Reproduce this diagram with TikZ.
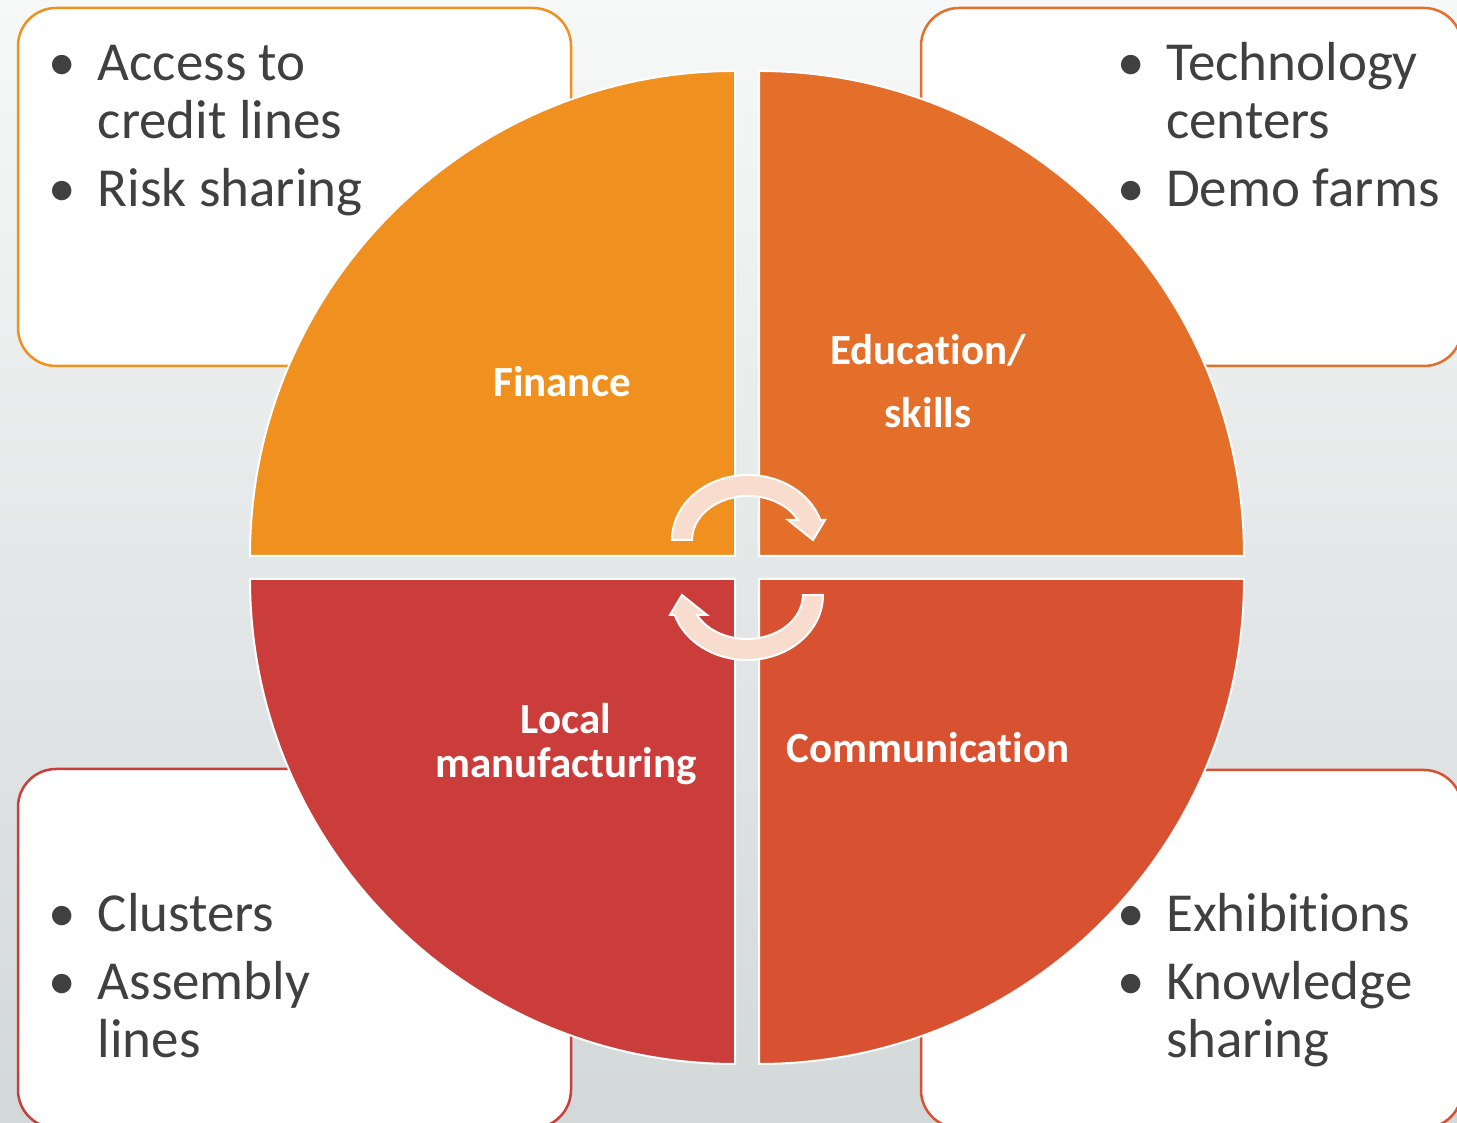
\documentclass[tikz,border=0pt]{standalone}
\usepackage{fontspec}
\setmainfont{Carlito}[Ligatures={NoCommon,NoContextual}]
\definecolor{bgtop}{HTML}{F7F8F8}
\definecolor{bgbottom}{HTML}{D3D8D8}
\definecolor{finorange}{HTML}{F0901F}
\definecolor{eduorange}{HTML}{E36F2A}
\definecolor{manred}{HTML}{CB3D3A}
\definecolor{comred}{HTML}{D85232}
\definecolor{arrowpeach}{HTML}{F8DCCD}
\definecolor{listgray}{HTML}{404040}
\tikzset{
  infobox/.style={rounded corners=38pt, line width=2.5pt, fill=white},
  quarter/.style={draw=white, line width=2pt},
  quadlabel/.style={text=white, font=\fontsize{43}{48}\selectfont\bfseries, anchor=base, inner sep=0pt},
  bulletlist/.style={text=listgray, font=\fontsize{55}{58}\selectfont, anchor=base west, inner sep=0pt},
  turnarrow/.style={fill=arrowpeach, draw=white, line width=2pt, line join=miter}
}
\newcommand{\bul}{\makebox[49pt][l]{\textbullet}}
\newcommand{\nobul}{\makebox[49pt][l]{}}
\begin{document}
\begin{tikzpicture}[x=1pt,y=1pt]
  \useasboundingbox (0,0) rectangle (1457,1123);
  \clip (0,0) rectangle (1457,1123);
  \shade[top color=bgtop, bottom color=bgbottom] (0,0) rectangle (1457,1123);

  % corner boxes
  \draw[infobox, draw=finorange] (18,757) rectangle (571,1115);
  \draw[infobox, draw=eduorange] (921,757) rectangle (1462,1115);
  \draw[infobox, draw=manred] (18,-5) rectangle (571,354);
  \draw[infobox, draw=comred] (921,-5) rectangle (1462,353);

  % the four quarters
  \foreach \cx/\cy/\a/\col in {735/567/90/finorange, 759/567/0/eduorange, 735/544/180/manred, 759/544/270/comred}{
    \filldraw[quarter, fill=\col] (\cx,\cy) -- ++(\a:485) arc[start angle=\a, end angle=\a+90, radius=485] -- cycle;
  }

  \node[quadlabel] (fin) at (562,726) {Finance};
  \node[quadlabel] (edu) at (928,758) {\begin{tabular}[t]{@{}c@{}}Education/\\[15pt] skills\end{tabular}};
  \node[quadlabel] (manu) at (566,389) {\begin{tabular}[t]{@{}c@{}}Local\\[-4pt] manufacturing\end{tabular}};
  \node[quadlabel] (com) at (928,360) {Communication};

  % turning arrows
  \draw[turnarrow] (672,583) arc[start angle=180, end angle=17.9, x radius=76, y radius=65]
    -- (825,603) -- (813,583) -- (788,603) -- (798,603)
    arc[start angle=27, end angle=180, x radius=56, y radius=44] -- cycle;
  \draw[turnarrow] (823,528) arc[start angle=360, end angle=197.9, x radius=76, y radius=65]
    -- (670,508) -- (682,528) -- (707,508) -- (697,508)
    arc[start angle=207, end angle=360, x radius=56, y radius=44] -- cycle;

  % lists
  \node[bulletlist] (finlist) at (48.6,1042) {\begin{tabular}[t]{@{}l@{}}\bul Access to\\ \nobul credit lines\\[10pt] \bul Risk sharing\end{tabular}};
  \node[bulletlist] (edulist) at (1117,1042) {\begin{tabular}[t]{@{}l@{}}\bul Technology\\ \nobul centers\\[10pt] \bul Demo farms\end{tabular}};
  \node[bulletlist] (manlist) at (48.6,191) {\begin{tabular}[t]{@{}l@{}}\bul Clusters\\[10pt] \bul Assembly\\ \nobul lines\end{tabular}};
  \node[bulletlist] (comlist) at (1117,191) {\begin{tabular}[t]{@{}l@{}}\bul Exhibitions\\[10pt] \bul Knowledge\\ \nobul sharing\end{tabular}};
\end{tikzpicture}
\end{document}
